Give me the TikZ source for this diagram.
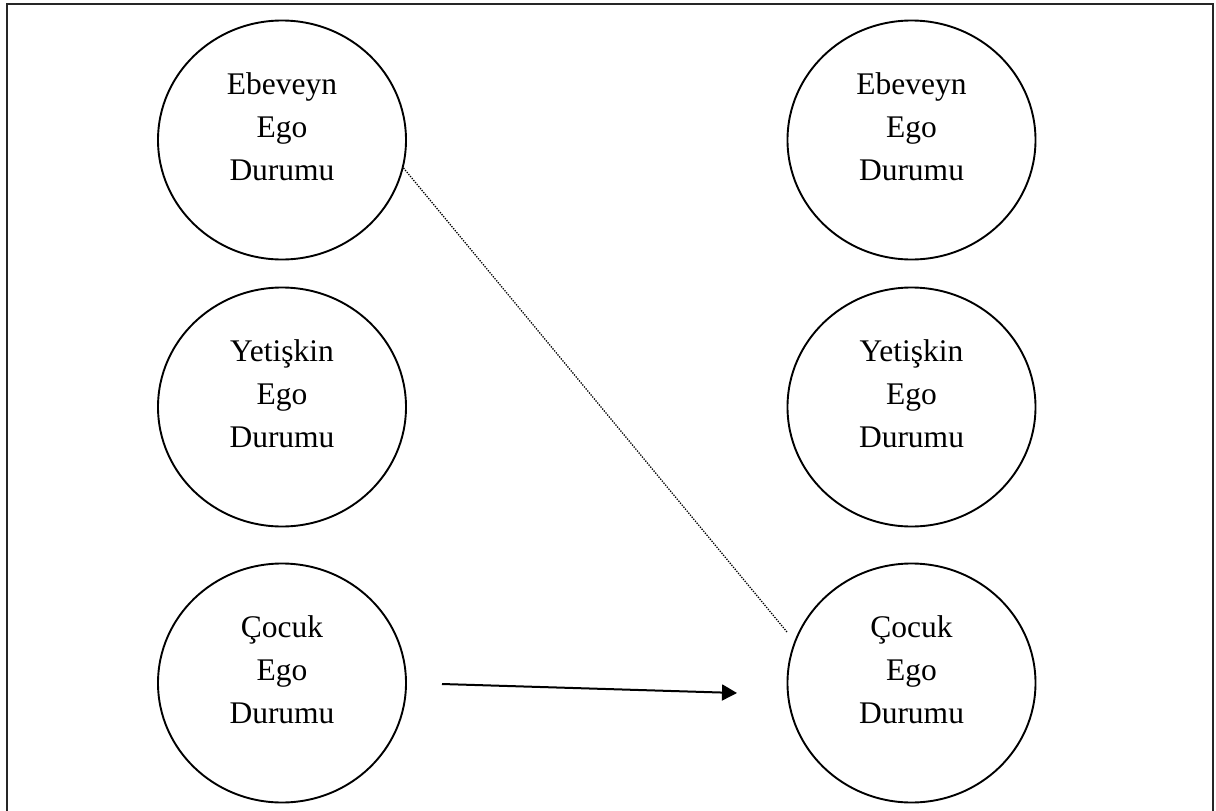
\documentclass[tikz,border=0pt]{standalone}
\usepackage{fontspec}
\setmainfont{Liberation Serif}
\usetikzlibrary{shapes.geometric,arrows.meta}
\begin{document}
\begin{tikzpicture}[x=1pt,y=-1pt,
  egostate/.style={draw, ellipse, line width=1.9pt, minimum width=248pt, minimum height=239pt, inner sep=0pt},
  egotext/.style={anchor=base, inner sep=0pt, font=\fontsize{31.5}{43}\selectfont},
  framestyle/.style={line width=2pt, black!85},
  dotline/.style={dash pattern=on 1.3pt off 1.3pt, line width=1.3pt, black},
  arrowline/.style={line width=2pt, -{Triangle[length=15pt,width=16pt]}}]
\useasboundingbox (0,0) rectangle (1216,811);
\draw[framestyle] (7,820) -- (7,3.5) -- (1212.5,3.5) -- (1212.5,820);
% circles
\node[egostate] (pLE) at (282,140) {};
\node[egostate] (pLY) at (282,407) {};
\node[egostate] (pLC) at (282,683) {};
\node[egostate] (pRE) at (911.5,140) {};
\node[egostate] (pRY) at (911.5,407) {};
\node[egostate] (pRC) at (911.5,683) {};
% texts
\node[egotext] (tLE) at (282,94) {\begin{tabular}[t]{@{}c@{}}Ebeveyn\\Ego\\Durumu\end{tabular}};
\node[egotext] (tLY) at (282,361) {\begin{tabular}[t]{@{}c@{}}Yetişkin\\Ego\\Durumu\end{tabular}};
\node[egotext] (tLC) at (282,637) {\begin{tabular}[t]{@{}c@{}}Çocuk\\Ego\\Durumu\end{tabular}};
\node[egotext] (tRE) at (911.5,94) {\begin{tabular}[t]{@{}c@{}}Ebeveyn\\Ego\\Durumu\end{tabular}};
\node[egotext] (tRY) at (911.5,361) {\begin{tabular}[t]{@{}c@{}}Yetişkin\\Ego\\Durumu\end{tabular}};
\node[egotext] (tRC) at (911.5,637) {\begin{tabular}[t]{@{}c@{}}Çocuk\\Ego\\Durumu\end{tabular}};
% connectors
\coordinate (dotEnd) at (787,632);
\draw[dotline] (pLE.-13) -- (dotEnd);
\coordinate (arrS) at (442,684);
\coordinate (arrE) at (737,693);
\draw[arrowline] (arrS) -- (arrE);
\end{tikzpicture}
\end{document}
